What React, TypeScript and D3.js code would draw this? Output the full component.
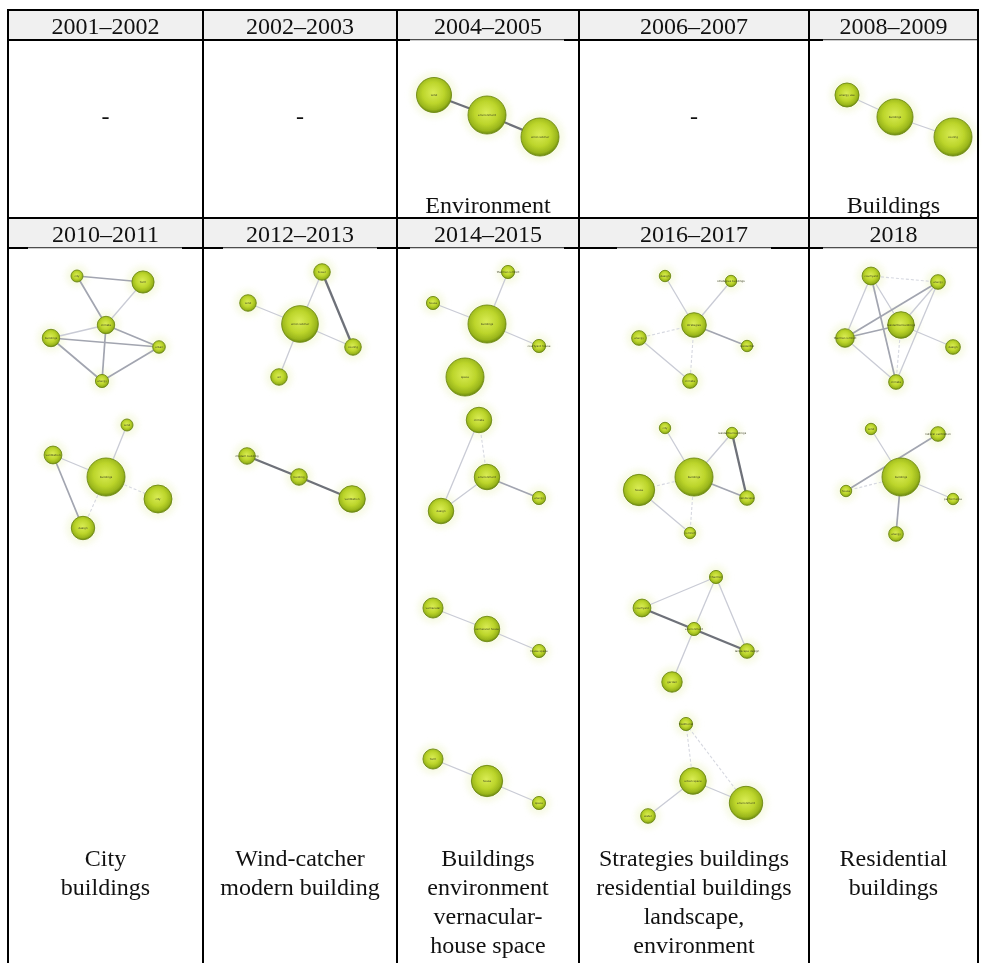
import React from "react";
import * as d3 from "d3";

// ---- table text ----
const periodsTop = ["2001–2002", "2002–2003", "2004–2005", "2006–2007", "2008–2009"];
const periodsBottom = ["2010–2011", "2012–2013", "2014–2015", "2016–2017", "2018"];
const topicsTop: string[][] = [[], [], ["Environment"], [], ["Buildings"]];
const topicsBottom: string[][] = [
  ["City", "buildings"],
  ["Wind-catcher", "modern building"],
  ["Buildings", "environment", "vernacular-", "house space"],
  ["Strategies buildings", "residential buildings", "landscape,", "environment"],
  ["Residential", "buildings"],
];

// ---- keyword networks: [id, label, layoutX, layoutY, frequency] ----
type N = [string, string, number, number, number];
type L = [string, string, number];

const nodes0405: N[] = [
  ["a", "wind", 24, 55, 85],
  ["b", "environment", 77, 75, 100],
  ["c", "wind-catcher", 130, 97, 100],
];
const links0405: L[] = [["a", "b", 3], ["b", "c", 3]];

const nodes0809: N[] = [
  ["a", "energy use", 24, 55, 40],
  ["b", "buildings", 72, 77, 90],
  ["c", "cooling", 130, 97, 100],
];
const links0809: L[] = [["a", "b", 1], ["b", "c", 1]];

const nodes1011: N[] = [
  ["A", "city", 49, 28, 10],
  ["B", "form", 115, 34, 34],
  ["C", "climate", 78, 77, 21],
  ["D", "buildings", 23, 90, 21],
  ["E", "urban", 131, 99, 11],
  ["F", "energy", 74, 133, 12],
  ["G", "wind", 99, 177, 10],
  ["H", "ventilation", 25, 207, 22],
  ["I", "buildings", 78, 229, 100],
  ["J", "city", 130, 251, 54],
  ["K", "design", 55, 280, 38],
];
const links1011: L[] = [
  ["A", "B", 2], ["A", "C", 2], ["B", "C", 1], ["C", "D", 1], ["D", "E", 2],
  ["C", "E", 2], ["C", "F", 2], ["D", "F", 2], ["E", "F", 2],
  ["H", "K", 2], ["G", "I", 1], ["H", "I", 1], ["I", "J", 0], ["I", "K", 0],
];

const nodes1213: N[] = [
  ["a", "tower", 99, 24, 19],
  ["b", "wind", 25, 55, 19],
  ["c", "wind-catcher", 77, 76, 93],
  ["d", "cooling", 130, 99, 19],
  ["e", "air", 56, 129, 19],
  ["f", "modern building", 24, 208, 19],
  ["g", "building", 76, 229, 19],
  ["h", "ventilation", 129, 251, 49],
];
const links1213: L[] = [
  ["a", "d", 3], ["a", "c", 1], ["b", "c", 1], ["c", "d", 1], ["c", "e", 1],
  ["f", "g", 3], ["g", "h", 3],
];

const nodes1415: N[] = [
  ["p", "thermal comfort", 98, 24, 12],
  ["q", "house", 23, 55, 12],
  ["r", "buildings", 77, 76, 100],
  ["s", "courtyard house", 129, 98, 12],
  ["t", "space", 55, 129, 100],
  ["u", "climate", 69, 172, 45],
  ["v", "environment", 77, 229, 45],
  ["w", "energy", 129, 250, 12],
  ["x", "design", 31, 263, 45],
  ["y1", "vernacular", 23, 360, 28],
  ["y2", "vernacular-house", 77, 381, 45],
  ["y3", "house space", 129, 403, 12],
  ["z1", "form", 23, 511, 28],
  ["z2", "house", 77, 533, 68],
  ["z3", "space", 129, 555, 12],
];
const links1415: L[] = [
  ["p", "r", 1], ["q", "r", 1], ["r", "s", 1],
  ["u", "x", 1], ["u", "v", 0], ["v", "w", 2], ["v", "x", 1],
  ["y1", "y2", 1], ["y2", "y3", 1],
  ["z1", "z2", 1], ["z2", "z3", 1],
];

const nodes1617: N[] = [
  ["k1", "design", 48, 28, 9],
  ["k2", "strategies buildings", 114, 33, 9],
  ["k3", "strategies", 77, 77, 42],
  ["k4", "energy", 22, 90, 15],
  ["k5", "residential", 130, 98, 9],
  ["k6", "climate", 73, 133, 15],
  ["m1", "city", 48, 180, 9],
  ["m2", "residential buildings", 115, 185, 9],
  ["m3", "buildings", 77, 229, 100],
  ["m4", "house", 22, 242, 68],
  ["m5", "landscape", 130, 250, 15],
  ["m6", "comfort", 73, 285, 9],
  ["n1", "thermal", 99, 329, 12],
  ["n2", "courtyard", 25, 360, 22],
  ["n3", "environment", 77, 381, 12],
  ["n4", "landscape design", 130, 403, 15],
  ["n5", "garden", 55, 434, 29],
  ["o1", "traditional", 69, 476, 12],
  ["o2", "urban space", 76, 533, 49],
  ["o3", "environment", 129, 555, 77],
  ["o4", "water", 31, 568, 15],
];
const links1617: L[] = [
  ["k1", "k3", 1], ["k2", "k3", 1], ["k3", "k4", 0], ["k3", "k5", 2], ["k3", "k6", 0], ["k4", "k6", 1],
  ["m2", "m5", 3], ["m1", "m3", 1], ["m2", "m3", 1], ["m3", "m4", 0], ["m3", "m5", 2], ["m3", "m6", 0], ["m4", "m6", 1],
  ["n2", "n4", 3], ["n1", "n2", 1], ["n1", "n3", 1], ["n1", "n4", 1], ["n3", "n5", 1],
  ["o1", "o2", 0], ["o1", "o3", 0], ["o2", "o3", 1], ["o2", "o4", 1],
];

const nodes2018: N[] = [
  ["q1", "courtyard", 48, 28, 22],
  ["q2", "energy", 115, 34, 15],
  ["q3", "residential buildings", 78, 77, 49],
  ["q4", "thermal comfort", 22, 90, 24],
  ["q5", "design", 130, 99, 15],
  ["q6", "climate", 73, 134, 15],
  ["r1", "wind", 48, 181, 9],
  ["r2", "natural ventilation", 115, 186, 15],
  ["r3", "buildings", 78, 229, 100],
  ["r4", "house", 23, 243, 9],
  ["r5", "performance", 130, 251, 9],
  ["r6", "energy", 73, 286, 15],
];
const links2018: L[] = [
  ["q1", "q2", 0], ["q1", "q4", 1], ["q1", "q6", 2], ["q1", "q3", 1], ["q2", "q4", 2], ["q2", "q3", 1],
  ["q2", "q6", 1], ["q3", "q4", 2], ["q3", "q5", 1], ["q3", "q6", 0], ["q4", "q6", 1],
  ["r2", "r4", 2], ["r3", "r4", 0], ["r1", "r3", 1], ["r3", "r5", 1], ["r3", "r6", 2],
];

// which table cell holds each network
const networks = [
  { row: 0, col: 2, nodes: nodes0405, links: links0405 },
  { row: 0, col: 4, nodes: nodes0809, links: links0809 },
  { row: 1, col: 0, nodes: nodes1011, links: links1011 },
  { row: 1, col: 1, nodes: nodes1213, links: links1213 },
  { row: 1, col: 2, nodes: nodes1415, links: links1415 },
  { row: 1, col: 3, nodes: nodes1617, links: links1617 },
  { row: 1, col: 4, nodes: nodes2018, links: links2018 },
];

// ---- layout ----
const W = 982;
const H = 963;
const colX = [8, 203, 397, 579, 809, 978];
const headerTop = [10, 218];
const headerH = 30;
const pictureLeft = [28, 223, 410, 617, 823];
const pictureW = 154;
const FONT = "'Liberation Serif', 'Times New Roman', serif";

const edgeColor = ["#d6d8e0", "#c9cbd5", "#a2a5b0", "#6e7179"];
const edgeWidth = [1.1, 1.3, 1.7, 2.3];

const radius = d3.scaleSqrt().domain([0, 100]).range([0, 19]);

function Network({ row, col, nodes, links }: { row: number; col: number; nodes: N[]; links: L[] }) {
  const left = pictureLeft[col];
  const top = headerTop[row] + headerH;
  const x = d3.scaleLinear().domain([0, pictureW]).range([left, left + pictureW]);
  const y = d3.scaleLinear().domain([0, pictureW]).range([top, top + pictureW]);
  const byId = new Map(nodes.map((n) => [n[0], n]));
  return (
    <g filter="url(#soft)">
      {nodes.map((n) => (
        <circle key={"h" + n[0]} cx={x(n[2])} cy={y(n[3])} r={radius(n[4]) + 5} fill="#f3f7d8" opacity={0.7} filter="url(#halo)" />
      ))}
      {links.map(([s, t, k], i) => {
        const a = byId.get(s)!;
        const b = byId.get(t)!;
        return (
          <line
            key={"l" + i}
            x1={x(a[2])}
            y1={y(a[3])}
            x2={x(b[2])}
            y2={y(b[3])}
            stroke={edgeColor[k]}
            strokeWidth={edgeWidth[k]}
            strokeDasharray={k === 0 ? "3 2" : undefined}
          />
        );
      })}
      {nodes.map((n) => (
        <circle key={"n" + n[0]} cx={x(n[2])} cy={y(n[3])} r={radius(n[4])} fill="url(#ball)" stroke="#6f8a14" strokeWidth={0.9} />
      ))}
      {nodes.map((n) => (
        <text
          key={"t" + n[0]}
          x={x(n[2])}
          y={y(n[3])}
          dy="0.35em"
          textAnchor="middle"
          fontSize={2.8}
          fontFamily="'DejaVu Sans', sans-serif"
          fill="#3c4020"
        >
          {n[1]}
        </text>
      ))}
    </g>
  );
}

export default function App() {
  const left = colX[0];
  const right = colX[colX.length - 1];
  const centers = colX.slice(0, -1).map((v, i) => (v + colX[i + 1]) / 2);
  return (
    <svg
      width={W}
      height={H}
      viewBox={`0 0 ${W} ${H}`}
      style={{ position: "absolute", left: 0, top: 0, background: "#fff" }}
    >
      <defs>
        <radialGradient id="ball" cx="48%" cy="44%" r="56%">
          <stop offset="0%" stopColor="#d9ec55" />
          <stop offset="55%" stopColor="#bcd52b" />
          <stop offset="85%" stopColor="#9ab61c" />
          <stop offset="100%" stopColor="#6c8a0e" />
        </radialGradient>
        <filter id="halo" x="-50%" y="-50%" width="200%" height="200%">
          <feGaussianBlur stdDeviation="3" />
        </filter>
        <filter id="soft" x="-5%" y="-5%" width="110%" height="110%">
          <feGaussianBlur stdDeviation="0.35" />
        </filter>
      </defs>

      {/* header bands */}
      {headerTop.map((t) => (
        <rect key={"hb" + t} x={left} y={t} width={right - left} height={headerH} fill="#f0f0f0" />
      ))}

      {/* networks */}
      {networks.map((n, i) => (
        <Network key={i} {...n} />
      ))}

      {/* header labels */}
      {periodsTop.map((p, i) => (
        <text key={"pt" + i} x={centers[i]} y={headerTop[0] + 24} textAnchor="middle" fontFamily={FONT} fontSize={24} fill="#111">
          {p}
        </text>
      ))}
      {periodsBottom.map((p, i) => (
        <text key={"pb" + i} x={centers[i]} y={headerTop[1] + 24} textAnchor="middle" fontFamily={FONT} fontSize={24} fill="#111">
          {p}
        </text>
      ))}

      {/* first row topics */}
      {topicsTop.map((lines, i) =>
        lines.length === 0 ? (
          <text key={"dash" + i} x={centers[i]} y={124} textAnchor="middle" fontFamily={FONT} fontSize={24} fill="#111">
            -
          </text>
        ) : (
          lines.map((s, j) => (
            <text key={"tt" + i + j} x={centers[i]} y={213 + j * 28} textAnchor="middle" fontFamily={FONT} fontSize={24} fill="#111">
              {s}
            </text>
          ))
        )
      )}

      {/* second row topics */}
      {topicsBottom.map((lines, i) =>
        lines.map((s, j) => (
          <text key={"tb" + i + j} x={centers[i]} y={866 + j * 29} textAnchor="middle" fontFamily={FONT} fontSize={24} fill="#111">
            {s}
          </text>
        ))
      )}

      {/* grid */}
      {[headerTop[0], headerTop[0] + headerH, headerTop[1], headerTop[1] + headerH].map((yy) => (
        <line key={"hl" + yy} x1={left - 1} x2={right + 1} y1={yy} y2={yy} stroke="#000" strokeWidth={2} />
      ))}
      {colX.map((xx) => (
        <line key={"vl" + xx} x1={xx} x2={xx} y1={headerTop[0] - 1} y2={H + 2} stroke="#000" strokeWidth={2} />
      ))}

      {/* top edges of the embedded network pictures */}
      {networks.map((n, i) => {
        const yy = headerTop[n.row] + headerH;
        const x0 = pictureLeft[n.col];
        return (
          <g key={"pe" + i}>
            <line x1={x0} x2={x0 + pictureW} y1={yy + 0.5} y2={yy + 0.5} stroke="#fff" strokeWidth={1.2} />
            <line x1={x0} x2={x0 + pictureW} y1={yy} y2={yy} stroke="#9a9a9a" strokeWidth={1} />
          </g>
        );
      })}
    </svg>
  );
}
